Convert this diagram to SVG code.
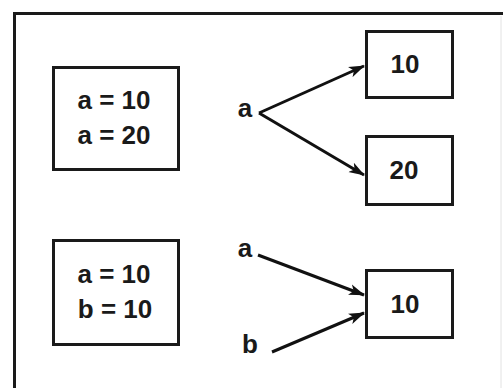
<svg xmlns="http://www.w3.org/2000/svg" width="503" height="388" viewBox="0 0 503 388">
  <style>
    .box { fill: #ffffff; stroke: #1a1a1a; stroke-width: 3; }
    .txt { font-family: "Liberation Sans", Arial, sans-serif; font-weight: bold; font-size: 26px; fill: #1a1a1a; text-anchor: middle; }
    .lbl { font-family: "Liberation Sans", Arial, sans-serif; font-weight: bold; font-size: 26px; fill: #1a1a1a; text-anchor: middle; }
    .edge { fill: none; stroke: #111111; stroke-width: 3; marker-end: url(#arrow); }
  </style>
  <defs>
    <marker id="arrow" markerUnits="userSpaceOnUse" markerWidth="16" markerHeight="12" refX="15" refY="6" orient="auto">
      <path d="M0,0.5 L16,6 L0,11.5 L4,6 Z" fill="#111111"/>
    </marker>
  </defs>
  <rect x="0" y="0" width="503" height="388" fill="#ffffff"/>
  <g id="frame">
    <rect x="14.5" y="13.5" width="700" height="500" fill="none" stroke="#1a1a1a" stroke-width="3"/>
    <line x1="501" y1="16" x2="501" y2="388" stroke="#e2e2e2" stroke-width="1"/>
  </g>
  <g id="box-a10-a20">
    <rect class="box" x="53.5" y="67.5" width="125" height="102"/>
    <text class="txt" x="114" y="109">a = 10</text>
    <text class="txt" x="114" y="144">a = 20</text>
  </g>
  <g id="box-a10-b10">
    <rect class="box" x="53.5" y="240.5" width="125" height="104"/>
    <text class="txt" x="114" y="283">a = 10</text>
    <text class="txt" x="115" y="318">b = 10</text>
  </g>
  <g id="label-a-top">
    <text class="lbl" x="245" y="117">a</text>
  </g>
  <g id="label-a-bottom">
    <text class="lbl" x="245" y="257">a</text>
  </g>
  <g id="label-b">
    <text class="lbl" x="250" y="353">b</text>
  </g>
  <g id="val-10-top">
    <rect class="box" x="366.5" y="31.5" width="86" height="66"/>
    <text class="txt" x="405" y="73">10</text>
  </g>
  <g id="val-20">
    <rect class="box" x="366.5" y="136.5" width="86" height="68"/>
    <text class="txt" x="404" y="179">20</text>
  </g>
  <g id="val-10-bottom">
    <rect class="box" x="366.5" y="270.5" width="86" height="67"/>
    <text class="txt" x="405" y="313">10</text>
  </g>
  <g id="connectors">
    <line class="edge" x1="259" y1="113" x2="364" y2="66"/>
    <line class="edge" x1="259" y1="113" x2="364" y2="175"/>
    <line class="edge" x1="258" y1="255" x2="364" y2="295"/>
    <line class="edge" x1="272" y1="352" x2="364" y2="313"/>
  </g>
</svg>
